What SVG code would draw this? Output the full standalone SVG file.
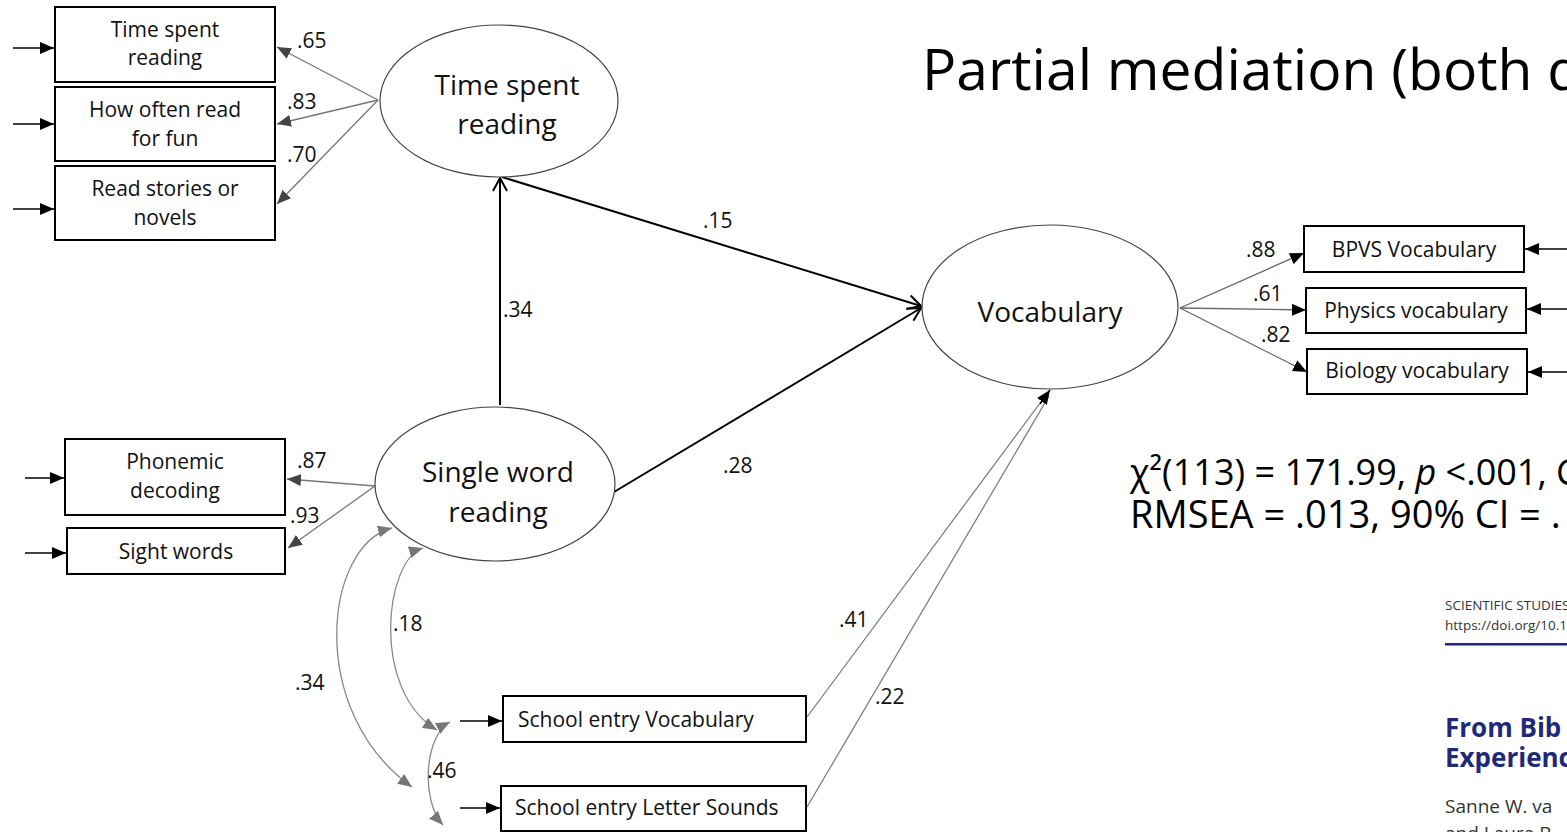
<svg xmlns="http://www.w3.org/2000/svg" width="1567" height="832" viewBox="0 0 1567 832">
<style>
  .box { fill: #fff; stroke: #000; stroke-width: 2; }
  .lat { fill: #fff; stroke: #444; stroke-width: 1.2; }
  .bt { font-family: "Open Sans", "Liberation Sans", sans-serif; font-size: 21px; fill: #111; text-anchor: middle; }
  .lt { font-family: "Open Sans", "Liberation Sans", sans-serif; font-size: 28px; fill: #111; text-anchor: middle; }
  .coef { font-family: "Open Sans", "Liberation Sans", sans-serif; font-size: 21px; fill: #111; }
  .path { stroke: #000; stroke-width: 2; fill: none; marker-end: url(#open); }
  .ld { stroke: #777; stroke-width: 1.3; fill: none; marker-end: url(#fgray); }
  .ldr { stroke: #666; stroke-width: 1.3; fill: none; marker-end: url(#fblack); }
  .err { stroke: #000; stroke-width: 1.3; fill: none; marker-end: url(#fblack); }
  .cov { stroke: #888; stroke-width: 1.3; fill: none; marker-start: url(#fcov); marker-end: url(#fcov); }
  .reg { stroke: #777; stroke-width: 1.2; fill: none; }
  .fit { font-family: "Open Sans", "Liberation Sans", sans-serif; fill: #000; }
</style>
<defs>
  <marker id="open" markerUnits="userSpaceOnUse" markerWidth="16" markerHeight="16" viewBox="0 0 16 16" refX="15" refY="8" orient="auto">
    <path d="M2,1 L15,8 L2,15" fill="none" stroke="#000" stroke-width="2"/>
  </marker>
  <marker id="fblack" markerUnits="userSpaceOnUse" markerWidth="14" markerHeight="12" viewBox="0 0 14 12" refX="14" refY="6" orient="auto">
    <path d="M0,0 L14,6 L0,12 Z" fill="#000"/>
  </marker>
  <marker id="fgray" markerUnits="userSpaceOnUse" markerWidth="14" markerHeight="12" viewBox="0 0 14 12" refX="14" refY="6" orient="auto">
    <path d="M0,0 L14,6 L0,12 Z" fill="#444"/>
  </marker>
  <marker id="fcov" markerUnits="userSpaceOnUse" markerWidth="14" markerHeight="12" viewBox="0 0 14 12" refX="14" refY="6" orient="auto-start-reverse">
    <path d="M0,0 L14,6 L0,12 Z" fill="#777"/>
  </marker>
</defs>
<rect x="0" y="0" width="1567" height="832" fill="#fff"/>

<g id="connectors">
  <line class="err" x1="13" y1="48" x2="54" y2="48"/>
  <line class="err" x1="13" y1="124" x2="54" y2="124"/>
  <line class="err" x1="13" y1="209" x2="54" y2="209"/>
  <line class="err" x1="25" y1="478" x2="64" y2="478"/>
  <line class="err" x1="25" y1="553" x2="66" y2="553"/>
  <line class="err" x1="460" y1="721" x2="502" y2="721"/>
  <line class="err" x1="460" y1="808" x2="500" y2="808"/>
  <line class="err" x1="1567" y1="249" x2="1525" y2="249"/>
  <line class="err" x1="1567" y1="309" x2="1527" y2="309"/>
  <line class="err" x1="1567" y1="372" x2="1528" y2="372"/>
  <line class="ld" x1="378" y1="100" x2="277" y2="47"/>
  <line class="ld" x1="378" y1="100" x2="277" y2="124"/>
  <line class="ld" x1="378" y1="100" x2="277" y2="204"/>
  <line class="ld" x1="375" y1="486" x2="287" y2="479"/>
  <line class="ld" x1="375" y1="486" x2="288" y2="548"/>
  <line class="ldr" x1="1180" y1="308" x2="1304" y2="253"/>
  <line class="ldr" x1="1180" y1="308" x2="1306" y2="310"/>
  <line class="ldr" x1="1180" y1="308" x2="1307" y2="372"/>
  <line class="path" x1="500" y1="405" x2="500" y2="178"/>
  <line class="path" x1="502" y1="177" x2="921" y2="306"/>
  <line class="path" x1="614" y1="492" x2="921" y2="308"/>
  <line class="reg" x1="807" y1="717" x2="1046" y2="395"/>
  <line class="reg" x1="807" y1="807" x2="1049" y2="396"/>
  <line class="err" x1="1040" y1="404" x2="1050" y2="390"/>
  <path class="cov" d="M392,528 C325,545 305,710 412,787"/>
  <path class="cov" d="M423,548 C385,560 370,690 437,730"/>
  <path class="cov" d="M450,722 C425,735 420,800 443,825"/>
</g>

<g id="labels">
  <text class="coef" x="297" y="48">.65</text>
  <text class="coef" x="287" y="109">.83</text>
  <text class="coef" x="287" y="162">.70</text>
  <text class="coef" x="297" y="468">.87</text>
  <text class="coef" x="290" y="523">.93</text>
  <text class="coef" x="503" y="317">.34</text>
  <text class="coef" x="703" y="228">.15</text>
  <text class="coef" x="723" y="473">.28</text>
  <text class="coef" x="839" y="627">.41</text>
  <text class="coef" x="875" y="704">.22</text>
  <text class="coef" x="1246" y="257">.88</text>
  <text class="coef" x="1253" y="301">.61</text>
  <text class="coef" x="1261" y="342">.82</text>
  <text class="coef" x="393" y="631">.18</text>
  <text class="coef" x="295" y="690">.34</text>
  <text class="coef" x="427" y="778">.46</text>
</g>

<g id="n-tsr1"><rect class="box" x="55" y="7" width="220" height="75"/><text class="bt" x="165" y="37">Time spent</text><text class="bt" x="165" y="65">reading</text></g>
<g id="n-tsr2"><rect class="box" x="55" y="87" width="220" height="74"/><text class="bt" x="165" y="117">How often read</text><text class="bt" x="165" y="146">for fun</text></g>
<g id="n-tsr3"><rect class="box" x="55" y="166" width="220" height="74"/><text class="bt" x="165" y="196">Read stories or</text><text class="bt" x="165" y="225">novels</text></g>
<g id="n-phon"><rect class="box" x="65" y="439" width="220" height="76"/><text class="bt" x="175" y="469">Phonemic</text><text class="bt" x="175" y="498">decoding</text></g>
<g id="n-sight"><rect class="box" x="67" y="528" width="218" height="46"/><text class="bt" x="176" y="559">Sight words</text></g>
<g id="n-sev"><rect class="box" x="503" y="696" width="303" height="46"/><text class="bt" x="518" y="727" style="text-anchor:start">School entry Vocabulary</text></g>
<g id="n-sels"><rect class="box" x="501" y="786" width="305" height="45"/><text class="bt" x="515" y="815" style="text-anchor:start">School entry Letter Sounds</text></g>
<g id="n-bpvs"><rect class="box" x="1304" y="226" width="220" height="46"/><text class="bt" x="1414" y="257">BPVS Vocabulary</text></g>
<g id="n-phys"><rect class="box" x="1306" y="288" width="220" height="45"/><text class="bt" x="1416" y="318">Physics vocabulary</text></g>
<g id="n-bio"><rect class="box" x="1307" y="349" width="220" height="45"/><text class="bt" x="1417" y="378">Biology vocabulary</text></g>

<g id="n-time"><ellipse class="lat" cx="499" cy="101" rx="119" ry="76"/><text class="lt" x="507" y="95">Time spent</text><text class="lt" x="507" y="134">reading</text></g>
<g id="n-single"><ellipse class="lat" cx="495" cy="484" rx="120" ry="77"/><text class="lt" x="498" y="482">Single word</text><text class="lt" x="498" y="522">reading</text></g>
<g id="n-vocab"><ellipse class="lat" cx="1050" cy="307" rx="128" ry="82"/><text class="lt" x="1050" y="322">Vocabulary</text></g>

<g id="title">
  <text x="922" y="90" font-family="Open Sans, Liberation Sans, sans-serif" font-size="57" fill="#000">Partial mediation (both d</text>
</g>
<g id="fit">
  <text class="fit" x="1130" y="485" font-size="36">χ²(113) = 171.99, <tspan font-style="italic">p</tspan> &lt;.001, C</text>
  <text class="fit" x="1130" y="528" font-size="38">RMSEA = .013, 90% CI = .</text>
</g>
<g id="paper" font-family="Open Sans, Liberation Sans, sans-serif">
  <text x="1445" y="610" font-size="13.5" fill="#333">SCIENTIFIC STUDIES</text>
  <text x="1445" y="630" font-size="13.5" fill="#333">https://doi.org/10.1</text>
  <rect x="1445" y="643" width="122" height="2.5" fill="#1e2a78"/>
  <text x="1445" y="737" font-size="26" font-weight="bold" fill="#1e2a78">From Bib</text>
  <text x="1445" y="767" font-size="26" font-weight="bold" fill="#1e2a78">Experienc</text>
  <text x="1445" y="813" font-size="19" fill="#333">Sanne W. va</text>
  <text x="1445" y="840" font-size="19" fill="#333">and Laura B</text>
</g>
</svg>
